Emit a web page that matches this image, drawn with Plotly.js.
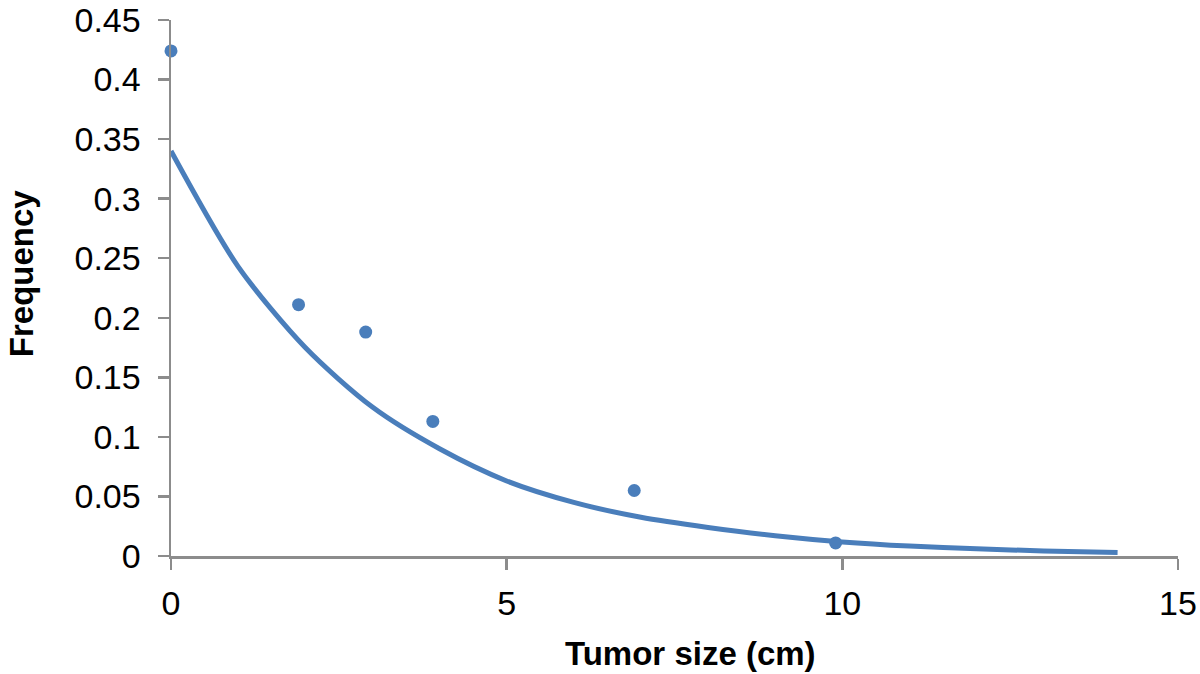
<!DOCTYPE html>
<html>
<head>
<meta charset="utf-8">
<script src="https://cdn.plot.ly/plotly-3.0.1.min.js"></script>
<style>html,body{margin:0;padding:0;background:#fff;}#chart{width:1200px;height:674px;}</style>
</head>
<body>
<div id="chart"></div>
<script>
// Observed data points
const sizeObs = [0, 1.9, 2.9, 3.9, 6.9, 9.9];
const freqObs = [0.424, 0.211, 0.188, 0.113, 0.055, 0.011];

// Fitted curve at integer sizes
const sizeFit = [0, 1, 2, 3, 4, 5, 6, 7, 8, 9, 10, 11, 12, 13, 14.1];
const freqFit = [0.340, 0.243, 0.175, 0.125, 0.090, 0.063, 0.045, 0.0325, 0.024, 0.017, 0.0118, 0.0083, 0.006, 0.0043, 0.003];

const xTitle = 'Tumor size (cm)';
const yTitle = 'Frequency';

const blue = '#4a7ebb';
const axisGray = '#8c8c8c';
const font = 'Liberation Sans, Arial, Helvetica, sans-serif';

const traces = [
  {
    x: sizeFit, y: freqFit, type: 'scatter', mode: 'lines',
    line: {color: blue, width: 5, shape: 'spline', smoothing: 0.8},
    hoverinfo: 'skip', cliponaxis: false
  },
  {
    x: sizeObs, y: freqObs, type: 'scatter', mode: 'markers',
    marker: {color: blue, size: 13},
    cliponaxis: false
  }
];

const layout = {
  width: 1200, height: 674,
  margin: {l: 171, r: 22, t: 20, b: 118},
  paper_bgcolor: '#ffffff', plot_bgcolor: '#ffffff',
  showlegend: false,
  font: {family: font, color: '#000', size: 34},
  xaxis: {
    range: [0, 15], dtick: 5, tick0: 0,
    showgrid: false, zeroline: false,
    showline: true, linecolor: axisGray, linewidth: 2.5,
    ticks: 'outside', ticklen: 11, tickwidth: 2.5, tickcolor: axisGray,
    ticklabelstandoff: 5,
    tickfont: {family: font, size: 34, color: '#000'}
  },
  yaxis: {
    range: [0, 0.45], dtick: 0.05, tick0: 0,
    showgrid: false, zeroline: false,
    showline: true, linecolor: axisGray, linewidth: 2.5,
    ticks: 'outside', ticklen: 11, tickwidth: 2.5, tickcolor: axisGray,
    ticklabelstandoff: 10,
    tickfont: {family: font, size: 34, color: '#000'}
  },
  annotations: [
    {
      text: '<b>' + xTitle + '</b>', xref: 'paper', yref: 'paper',
      x: 0.516, y: -0.182, xanchor: 'center', yanchor: 'middle',
      showarrow: false, font: {family: font, size: 33, color: '#000'}
    },
    {
      text: '<b>' + yTitle + '</b>', xref: 'paper', yref: 'paper',
      x: -0.149, y: 0.5275, xanchor: 'center', yanchor: 'middle',
      textangle: -90,
      showarrow: false, font: {family: font, size: 33, color: '#000'}
    }
  ]
};

Plotly.newPlot('chart', traces, layout, {displayModeBar: false, staticPlot: true});
</script>
</body>
</html>
